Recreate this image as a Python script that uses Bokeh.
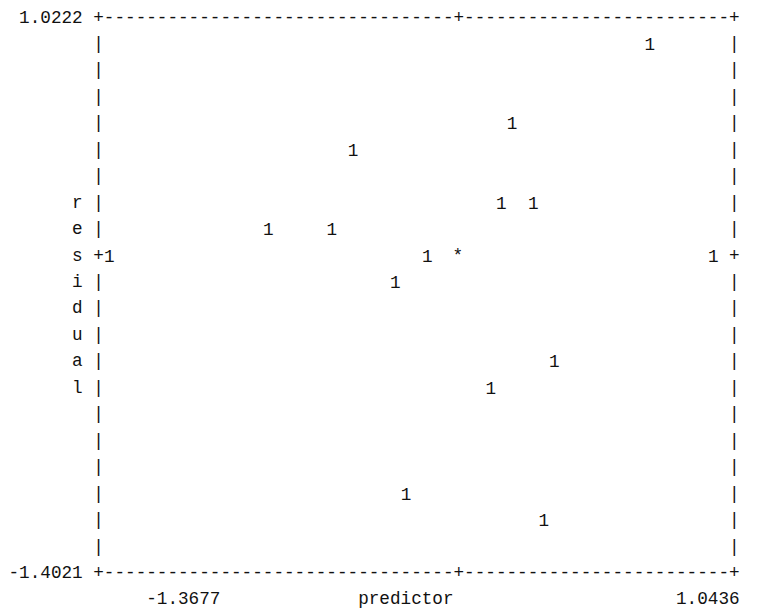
from bokeh.plotting import figure
from bokeh.models import Range1d, ColumnDataSource
from bokeh.core.properties import value
from bokeh.embed import file_html
from bokeh.resources import INLINE

# ---- data ----
predictor = [0.7526, 0.2121, -0.4115, 0.1706, 0.2953, -0.7441, -0.4946,
             -1.3677, -0.1205, 1.0020, -0.2452, 0.3784, 0.1290, -0.2036, 0.3368]
residual = [1.0222, 0.6394, 0.5118, 0.2566, 0.2566, 0.1290, 0.1290,
            0.0014, 0.0014, 0.0014, -0.1262, -0.5090, -0.6365, -1.1469, -1.2745]
counts = [1] * len(predictor)
x_min, x_max = -1.3677, 1.0436
y_min, y_max = -1.4021, 1.0222
x_title = "predictor"
y_title = "residual"

# ---- character grid layout ----
CW = 10.6      # char cell width (px)
RH = 26.45     # row height (px)
X0 = 8.0       # left edge of column 0 (px)
Y0 = 17.0      # centre of row 0 (px, from top of figure)
FONT = "Liberation Mono"
FS = "%.2fpx" % (CW / 0.6)
NCOL = 58      # cells spanned by the x data range
NROW = 19      # rows spanned by the y data range
LEFT = 8       # column of left border
RIGHT = LEFT + NCOL + 2
W, H = 776, 612

dx = x_max - x_min
dy = y_max - y_min

def col_x(c):   # data x at centre of column c
    return x_min + (c - (LEFT + 1)) * dx / NCOL

def row_y(r):   # data y at centre of row r
    return y_max - (r - 1) * dy / NROW

x_start = col_x(-X0 / CW - 0.5)
x_end = col_x((W - X0) / CW - 0.5)
y_end = row_y(-Y0 / RH)
y_start = row_y((H - Y0) / RH)

p = figure(width=W, height=H, output_backend="svg", toolbar_location=None,
           x_range=Range1d(x_start, x_end), y_range=Range1d(y_start, y_end),
           x_axis_location=None, y_axis_location=None, min_border=0)
p.outline_line_color = None
p.xgrid.visible = False
p.ygrid.visible = False
p.background_fill_color = "white"
p.border_fill_color = "white"

# tick (zero) positions from the scales
xt = round((LEFT + 1) + (0 - x_min) / dx * NCOL)
yt = round(1 + (y_max - 0) / dy * NROW)
bottom_row = NROW + 2
width_in = RIGHT - LEFT - 1

def border():
    s = ["-"] * width_in
    s[xt - LEFT - 1] = "+"
    return "+" + "".join(s) + "+"

lines = {}
lines[0] = ("%.4f" % y_max).rjust(LEFT - 1) + " " + border()
start_lbl = 1 + (NROW + 1 - len(y_title)) // 2
for r in range(1, bottom_row):
    ch = " "
    if start_lbl <= r < start_lbl + len(y_title):
        ch = y_title[r - start_lbl]
    edge = "+" if r == yt else "|"
    lines[r] = " " * (LEFT - 2) + ch + " " + edge + " " * width_in + edge
lines[bottom_row] = ("%.4f" % y_min).rjust(LEFT - 1) + " " + border()
lab_l = "%.4f" % x_min
lab_r = "%.4f" % x_max
row = [" "] * (RIGHT + 1)
title_start = 33
for i, ch in enumerate(lab_l):
    row[13 + i] = ch
for i, ch in enumerate(x_title):
    row[title_start + i] = ch
for i, ch in enumerate(lab_r):
    row[RIGHT - len(lab_r) + 1 + i] = ch
lines[bottom_row + 1] = "".join(row)

rows = sorted(lines)
deco = ColumnDataSource(dict(x=[col_x(-0.5)] * len(rows),
                             y=[row_y(r) for r in rows],
                             t=[lines[r].replace(" ", "\u00a0") for r in rows]))
p.text(x="x", y="y", text="t", source=deco, text_font=value(FONT),
       text_font_size=FS, text_align="left", text_baseline="middle",
       text_color="#111111")

pts = ColumnDataSource(dict(x=predictor, y=residual, t=[str(c) for c in counts]))
p.text(x="x", y="y", text="t", source=pts, text_font=value(FONT),
       text_font_size=FS, text_align="center", text_baseline="middle",
       text_color="#111111")

# origin marker
p.text(x=[0.0], y=[0.0], text=["*"], text_font=value(FONT), text_font_size=FS,
       text_align="center", text_baseline="middle", text_color="#111111")

open("out.html", "w").write(file_html(p, INLINE))
